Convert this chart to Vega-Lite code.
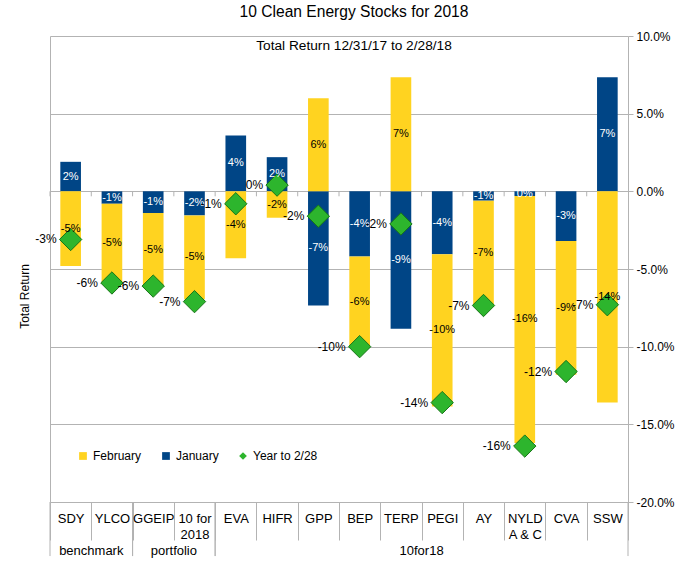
{
  "$schema": "https://vega.github.io/schema/vega-lite/v6.json",
  "width": 578,
  "height": 466,
  "autosize": {"type": "none"},
  "padding": {"left": 50, "top": 36, "right": 64, "bottom": 68},
  "background": "white",
  "title": {
    "text": "10 Clean Energy Stocks for 2018",
    "subtitle": "Total Return 12/31/17 to 2/28/18",
    "fontSize": 15.6,
    "fontWeight": "normal",
    "color": "black",
    "subtitleFontSize": 13.7,
    "subtitleColor": "black",
    "subtitlePadding": 19,
    "offset": -23,
    "anchor": "middle",
    "dx": 15,
    "font": "Liberation Sans",
    "subtitleFont": "Liberation Sans"
  },
  "datasets": {
    "monthly": [
      {"ticker": "SDY", "month": "January", "value": 0.019},
      {"ticker": "SDY", "month": "February", "value": -0.048},
      {"ticker": "YLCO", "month": "January", "value": -0.008},
      {"ticker": "YLCO", "month": "February", "value": -0.051},
      {"ticker": "GGEIP", "month": "January", "value": -0.014},
      {"ticker": "GGEIP", "month": "February", "value": -0.047},
      {"ticker": "10 for 2018", "month": "January", "value": -0.0155},
      {"ticker": "10 for 2018", "month": "February", "value": -0.054},
      {"ticker": "EVA", "month": "January", "value": 0.036},
      {"ticker": "EVA", "month": "February", "value": -0.043},
      {"ticker": "HIFR", "month": "January", "value": 0.022},
      {"ticker": "HIFR", "month": "February", "value": -0.017},
      {"ticker": "GPP", "month": "January", "value": -0.0735},
      {"ticker": "GPP", "month": "February", "value": 0.06},
      {"ticker": "BEP", "month": "January", "value": -0.042},
      {"ticker": "BEP", "month": "February", "value": -0.058},
      {"ticker": "TERP", "month": "January", "value": -0.0885},
      {"ticker": "TERP", "month": "February", "value": 0.0735},
      {"ticker": "PEGI", "month": "January", "value": -0.0405},
      {"ticker": "PEGI", "month": "February", "value": -0.098},
      {"ticker": "AY", "month": "January", "value": -0.006},
      {"ticker": "AY", "month": "February", "value": -0.0675},
      {"ticker": "NYLD A & C", "month": "January", "value": -0.003},
      {"ticker": "NYLD A & C", "month": "February", "value": -0.159},
      {"ticker": "CVA", "month": "January", "value": -0.032},
      {"ticker": "CVA", "month": "February", "value": -0.086},
      {"ticker": "SSW", "month": "January", "value": 0.0735},
      {"ticker": "SSW", "month": "February", "value": -0.136}
    ],
    "ytd": [
      {"ticker": "SDY", "ytd": -0.031},
      {"ticker": "YLCO", "ytd": -0.059},
      {"ticker": "GGEIP", "ytd": -0.061},
      {"ticker": "10 for 2018", "ytd": -0.071},
      {"ticker": "EVA", "ytd": -0.008},
      {"ticker": "HIFR", "ytd": 0.004},
      {"ticker": "GPP", "ytd": -0.016},
      {"ticker": "BEP", "ytd": -0.1},
      {"ticker": "TERP", "ytd": -0.021},
      {"ticker": "PEGI", "ytd": -0.136},
      {"ticker": "AY", "ytd": -0.0735},
      {"ticker": "NYLD A & C", "ytd": -0.164},
      {"ticker": "CVA", "ytd": -0.116},
      {"ticker": "SSW", "ytd": -0.073}
    ],
    "groups": [
      {"group": "benchmark", "first": "SDY", "last": "YLCO", "mid": "YLCO"},
      {"group": "portfolio", "first": "GGEIP", "last": "10 for 2018", "mid": "10 for 2018"},
      {"group": "10for18", "first": "EVA", "last": "SSW", "mid": "PEGI"}
    ]
  },
  "layer": [
    {
      "data": {"name": "monthly"},
      "mark": {"type": "bar", "width": {"band": 0.5}},
      "encoding": {
        "x": {
          "field": "ticker",
          "type": "nominal",
          "scale": {
            "domain": ["SDY", "YLCO", "GGEIP", "10 for 2018", "EVA", "HIFR", "GPP", "BEP", "TERP", "PEGI", "AY", "NYLD A & C", "CVA", "SSW"],
            "paddingInner": 0,
            "paddingOuter": 0
          },
          "axis": {
            "title": null,
            "tickBand": "extent",
            "tickSize": 38,
            "tickColor": "#b3b3b3",
            "domainColor": "#b3b3b3",
            "grid": false,
            "labelAngle": 0,
            "labelFontSize": 13,
            "labelColor": "black",
            "labelPadding": -28,
            "labelBaseline": "top",
            "labelLineHeight": 16,
            "labelExpr": "datum.value == '10 for 2018' ? ['10 for', '2018'] : datum.value == 'NYLD A & C' ? ['NYLD', 'A & C'] : datum.value"
          }
        },
        "y": {
          "field": "value",
          "type": "quantitative",
          "stack": "zero",
          "scale": {"domain": [-0.2, 0.1], "nice": false, "zero": false},
          "axis": {
            "orient": "right",
            "title": null,
            "values": [-0.2, -0.15, -0.1, -0.05, 0, 0.05, 0.1],
            "format": ".1%",
            "grid": true,
            "gridColor": "#b3b3b3",
            "tickSize": 5,
            "tickColor": "#b3b3b3",
            "domainColor": "#b3b3b3",
            "labelFontSize": 12,
            "labelColor": "black",
            "labelPadding": 3
          }
        },
        "color": {
          "field": "month",
          "type": "nominal",
          "scale": {
            "domain": ["February", "January", "Year to 2/28"],
            "range": ["#ffd320", "#004586", "#2db52d"]
          },
          "legend": {
            "orient": "none",
            "legendX": 27,
            "legendY": 414,
            "direction": "horizontal",
            "title": null,
            "symbolSize": 60,
            "labelFontSize": 12,
            "labelColor": "black",
            "labelOffset": 4,
            "columnPadding": 18,
            "symbolStrokeWidth": 0,
            "padding": 0
          }
        },
        "order": {"field": "month", "sort": "descending"}
      }
    },
    {
      "data": {"name": "ytd"},
      "mark": {"type": "rule", "color": "#b3b3b3"},
      "encoding": {
        "x": {"field": "ticker", "type": "nominal", "bandPosition": 0},
        "y": {"datum": 0, "type": "quantitative", "axis": null},
        "y2": {"datum": -0.0032}
      }
    },
    {
      "data": {"name": "groups"},
      "mark": {"type": "rule", "color": "#b3b3b3"},
      "encoding": {
        "x": {"field": "first", "type": "nominal", "bandPosition": 0},
        "y": {"datum": -0.2, "type": "quantitative", "axis": null},
        "y2": {"datum": -0.2348}
      }
    },
    {
      "data": {"name": "groups"},
      "mark": {"type": "rule", "color": "#b3b3b3"},
      "encoding": {
        "x": {"field": "last", "type": "nominal", "bandPosition": 1},
        "y": {"datum": -0.2, "type": "quantitative", "axis": null},
        "y2": {"datum": -0.2348}
      }
    },
    {
      "data": {"name": "groups"},
      "mark": {"type": "text", "fontSize": 13, "baseline": "middle", "align": "center", "color": "black"},
      "encoding": {
        "x": {"field": "mid", "type": "nominal", "bandPosition": 0},
        "y": {"datum": -0.2316, "type": "quantitative", "axis": null},
        "text": {"field": "group"}
      }
    },
    {
      "data": {"name": "ytd"},
      "mark": {"type": "point", "filled": true, "size": 500, "stroke": "#177517", "strokeWidth": 1, "opacity": 1},
      "encoding": {
        "x": {"field": "ticker", "type": "nominal"},
        "y": {
          "field": "ytd",
          "type": "quantitative",
          "axis": {
            "orient": "left",
            "title": "Total Return",
            "labels": false,
            "ticks": false,
            "grid": false,
            "domainColor": "#b3b3b3",
            "titleFontSize": 12,
            "titleFontWeight": "normal",
            "titleColor": "black",
            "titleX": -26,
            "titleY": 260,
            "titleAngle": 270,
            "titleBaseline": "middle",
            "titleAlign": "center"
          }
        },
        "color": {"datum": "Year to 2/28"},
        "shape": {
          "datum": "Year to 2/28",
          "scale": {
            "domain": ["February", "January", "Year to 2/28"],
            "range": ["square", "square", "diamond"]
          },
          "legend": {
            "orient": "none",
            "legendX": 27,
            "legendY": 414,
            "direction": "horizontal",
            "title": null,
            "symbolSize": 60,
            "labelFontSize": 12,
            "labelColor": "black",
            "labelOffset": 4,
            "columnPadding": 18,
            "symbolStrokeWidth": 0,
            "padding": 0
          }
        }
      }
    },
    {
      "data": {"name": "monthly"},
      "mark": {"type": "text", "fontSize": 11, "baseline": "middle", "align": "center"},
      "encoding": {
        "x": {"field": "ticker", "type": "nominal"},
        "y": {"field": "value", "type": "quantitative", "stack": "zero", "bandPosition": 0.5, "axis": null},
        "detail": {"field": "month"},
        "order": {"field": "month", "sort": "descending"},
        "text": {"field": "value", "type": "quantitative", "format": ".0%"},
        "color": {"condition": {"test": "datum.month === 'January'", "value": "white"}, "value": "black"}
      }
    },
    {
      "data": {"name": "ytd"},
      "mark": {"type": "text", "fontSize": 12, "baseline": "middle", "align": "right", "dx": -14, "color": "black"},
      "encoding": {
        "x": {"field": "ticker", "type": "nominal"},
        "y": {"field": "ytd", "type": "quantitative", "axis": null},
        "text": {"field": "ytd", "type": "quantitative", "format": ".0%"}
      }
    }
  ],
  "resolve": {"axis": {"y": "independent"}},
  "config": {
    "font": "Liberation Sans",
    "view": {"stroke": null},
    "locale": {
      "number": {"decimal": ".", "thousands": ",", "grouping": [3], "currency": ["$", ""], "minus": "-"}
    }
  }
}
